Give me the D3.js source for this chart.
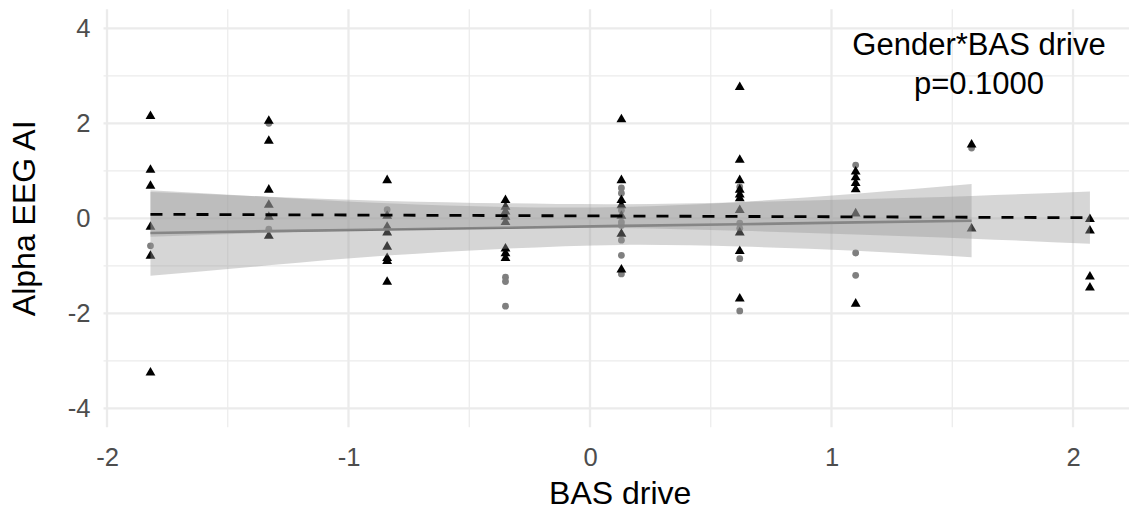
<!DOCTYPE html>
<html>
<head>
<meta charset="utf-8">
<script src="https://cdn.jsdelivr.net/npm/d3@7"></script>
<style>
  html, body { margin: 0; padding: 0; background: #ffffff; }
  svg { display: block; font-family: "Liberation Sans", Arial, sans-serif; }
</style>
</head>
<body>
<svg id="chart" width="1129" height="511"></svg>
<script>
// ---------------- data ----------------
const xTicks = [-2, -1, 0, 1, 2];
const xMinor = [-1.5, -0.5, 0.5, 1.5];
const yTicks = [-4, -2, 0, 2, 4];
const yMinor = [-3, -1, 1, 3];

// BAS drive levels (columns)
const basLevels = [-1.82, -1.33, -0.84, -0.35, 0.13, 0.62, 1.10, 1.58, 2.07];

// Group A (triangles): values per level
const triValues = [
  [2.15, 1.02, 0.68, -0.18, -0.79, -3.25],
  [2.05, 1.63, 0.60, 0.28, 0.03, -0.37],
  [0.80, 0.05, -0.18, -0.30, -0.60, -0.84, -0.90, -1.34],
  [0.38, 0.24, 0.14, 0.03, -0.08, -0.64, -0.74, -0.84],
  [2.08, 0.80, 0.38, 0.27, 0.05, -0.33, -1.08],
  [2.76, 1.23, 0.80, 0.60, 0.50, 0.42, 0.17, -0.30, -0.69, -1.69],
  [0.98, 0.86, 0.74, 0.61, 0.10, -1.80],
  [1.55, -0.22],
  [-0.02, -0.26, -1.23, -1.46]
];

// Group B (circles): values per level
const circValues = [
  [-0.58],
  [2.00, -0.23],
  [0.18],
  [-1.24, -1.33, -1.85],
  [0.64, 0.53, 0.17, -0.08, -0.15, -0.46, -0.78, -1.17],
  [0.66, -0.10, -0.21, -0.85, -1.95],
  [1.12, -0.73, -1.20],
  [1.48],
  []
];

// Fitted line + confidence band, group A (dashed), at each level
const fitAX     = [-1.82, -1.33, -0.84, -0.35, 0.13, 0.62, 1.10, 1.58, 2.07];
const fitAY     = [0.084, 0.075, 0.066, 0.057, 0.048, 0.039, 0.031, 0.022, 0.013];
const fitALower = [-0.386, -0.305, -0.234, -0.203, -0.202, -0.261, -0.339, -0.428, -0.537];
const fitAUpper = [0.554, 0.455, 0.366, 0.317, 0.298, 0.339, 0.401, 0.472, 0.563];

// Fitted line + confidence band, group B (solid), at each level
const fitBX     = [-1.82, -1.33, -0.84, -0.35, 0.13, 0.62, 1.10, 1.58];
const fitBY     = [-0.31, -0.27, -0.235, -0.20, -0.16, -0.125, -0.085, -0.05];
const fitBLower = [-1.21, -0.99, -0.785, -0.64, -0.56, -0.595, -0.685, -0.82];
const fitBUpper = [0.59, 0.45, 0.315, 0.24, 0.24, 0.345, 0.515, 0.72];

const annotationLines = ["Gender*BAS drive", "p=0.1000"];
const xTitle = "BAS drive";
const yTitle = "Alpha EEG AI";

// ---------------- layout ----------------
const svg = d3.select("#chart");
const panel = { left: 103.5, right: 1136.9, top: 9.3, bottom: 427.3 };

const x = d3.scaleLinear().domain([-2.0145, 2.2645]).range([panel.left, panel.right]);
const y = d3.scaleLinear().domain([-4.4, 4.4]).range([panel.bottom, panel.top]);

const grid = svg.append("g");
// minor grid
grid.selectAll("line.ymin").data(yMinor).enter().append("line")
  .attr("x1", panel.left).attr("x2", panel.right)
  .attr("y1", d => y(d)).attr("y2", d => y(d))
  .attr("stroke", "#ebebeb").attr("stroke-width", 1.2);
grid.selectAll("line.xmin").data(xMinor).enter().append("line")
  .attr("y1", panel.top).attr("y2", panel.bottom)
  .attr("x1", d => x(d)).attr("x2", d => x(d))
  .attr("stroke", "#ebebeb").attr("stroke-width", 1.2);
// major grid
grid.selectAll("line.ymaj").data(yTicks).enter().append("line")
  .attr("x1", panel.left).attr("x2", panel.right)
  .attr("y1", d => y(d)).attr("y2", d => y(d))
  .attr("stroke", "#ebebeb").attr("stroke-width", 2.3);
grid.selectAll("line.xmaj").data(xTicks).enter().append("line")
  .attr("y1", panel.top).attr("y2", panel.bottom)
  .attr("x1", d => x(d)).attr("x2", d => x(d))
  .attr("stroke", "#ebebeb").attr("stroke-width", 2.3);

const fmt = d => String(d);

// axes (text only, via d3 axis)
const xAxis = svg.append("g").attr("transform", `translate(0,${panel.bottom})`)
  .call(d3.axisBottom(x).tickValues(xTicks).tickSize(0).tickPadding(21).tickFormat(fmt));
xAxis.select(".domain").remove();
xAxis.selectAll("text").attr("font-size", 25.6).attr("fill", "#4d4d4d")
  .attr("font-family", "Liberation Sans, Arial, sans-serif");

const yAxis = svg.append("g").attr("transform", `translate(${panel.left},0)`)
  .call(d3.axisLeft(y).tickValues(yTicks).tickSize(0).tickPadding(13).tickFormat(fmt));
yAxis.select(".domain").remove();
yAxis.selectAll("text").attr("font-size", 25.6).attr("fill", "#4d4d4d")
  .attr("font-family", "Liberation Sans, Arial, sans-serif");

// points
const pts = svg.append("g");
const circData = [];
circValues.forEach((vals, i) => vals.forEach(v => circData.push({ x: basLevels[i], y: v })));
const triData = [];
triValues.forEach((vals, i) => vals.forEach(v => triData.push({ x: basLevels[i], y: v })));

pts.selectAll("circle").data(circData).enter().append("circle")
  .attr("cx", d => x(d.x)).attr("cy", d => y(d.y)).attr("r", 3.4)
  .attr("fill", "#7f7f7f");

const triSym = d3.symbol().type(d3.symbolTriangle).size(42);
pts.selectAll("path.tri").data(triData).enter().append("path")
  .attr("class", "tri")
  .attr("d", triSym)
  .attr("transform", d => `translate(${x(d.x)},${y(d.y)})`)
  .attr("fill", "#000000");

// ribbons
const bandA = fitAX.map((v, i) => ({ x: v, lo: fitALower[i], hi: fitAUpper[i], f: fitAY[i] }));
const bandB = fitBX.map((v, i) => ({ x: v, lo: fitBLower[i], hi: fitBUpper[i], f: fitBY[i] }));

const area = d3.area().x(d => x(d.x)).y0(d => y(d.lo)).y1(d => y(d.hi)).curve(d3.curveNatural);
const line = d3.line().x(d => x(d.x)).y(d => y(d.f));

svg.append("path").datum(bandB).attr("d", area).attr("fill", "#999999").attr("fill-opacity", 0.4);
svg.append("path").datum(bandB).attr("d", line).attr("fill", "none")
  .attr("stroke", "#7a7a7a").attr("stroke-width", 2.6);

svg.append("path").datum(bandA).attr("d", area).attr("fill", "#999999").attr("fill-opacity", 0.4);
svg.append("path").datum(bandA).attr("d", line).attr("fill", "none")
  .attr("stroke", "#000000").attr("stroke-width", 2.8).attr("stroke-dasharray", "12,11");

// annotation
const ann = svg.append("text").attr("x", 979).attr("y", 55)
  .attr("text-anchor", "middle").attr("font-size", 31).attr("fill", "#000");
annotationLines.forEach((t, i) => {
  ann.append("tspan").attr("x", 979).attr("y", 55 + i * 39).text(t);
});

// axis titles
svg.append("text").attr("x", (panel.left + panel.right) / 2).attr("y", 504)
  .attr("text-anchor", "middle").attr("font-size", 32).attr("fill", "#000").text(xTitle);
svg.append("text").attr("transform", `translate(35,${(panel.top + panel.bottom) / 2}) rotate(-90)`)
  .attr("text-anchor", "middle").attr("font-size", 32).attr("fill", "#000").text(yTitle);
</script>
</body>
</html>
